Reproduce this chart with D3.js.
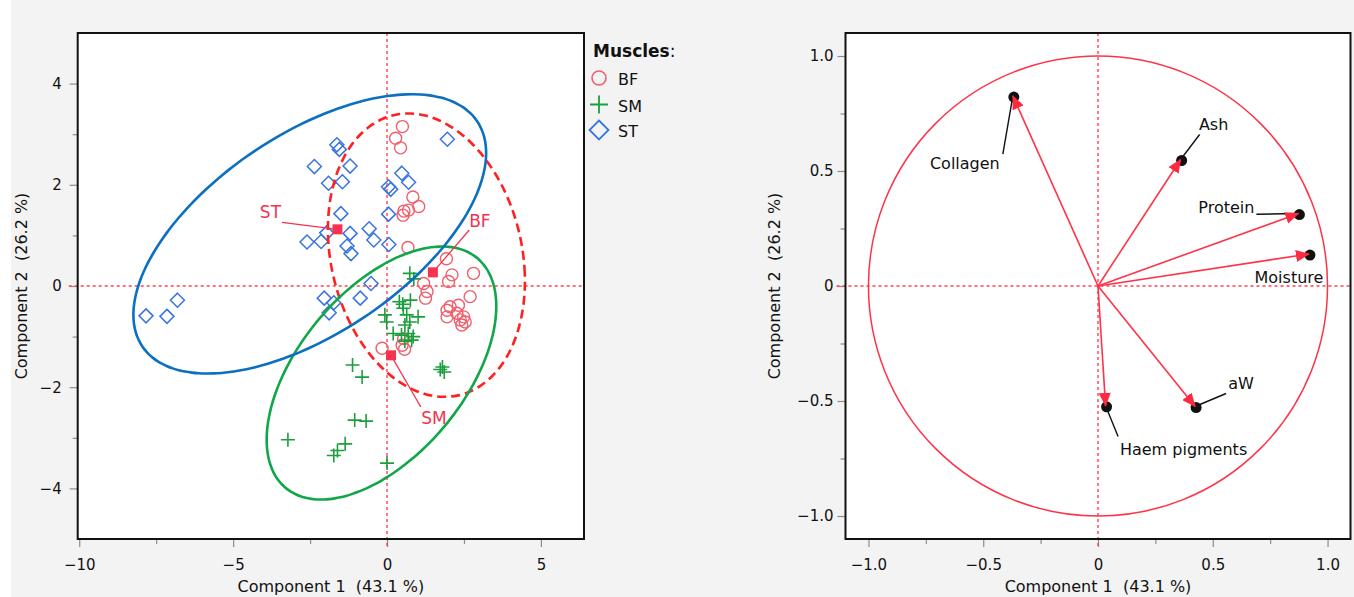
<!DOCTYPE html>
<html>
<head>
<meta charset="utf-8">
<script src="https://cdn.jsdelivr.net/npm/d3@7"></script>
<style>
  html, body { margin: 0; padding: 0; background: #f3f3f3; }
  svg text { font-family: "DejaVu Sans", sans-serif; fill: #111; }
</style>
</head>
<body>
<svg id="chart" width="1354" height="597"></svg>
<script>
// ---- score plot data (Component 1, Component 2) ----
var bfScores = [
  [0.50, 3.15], [0.28, 2.92], [0.44, 2.73], [0.84, 1.76], [1.03, 1.57], [0.55, 1.48],
  [0.70, 1.50], [0.52, 1.40], [0.68, 0.76], [1.93, 0.54], [2.11, 0.22], [2.81, 0.25],
  [1.19, 0.05], [2.00, 0.09], [1.30, -0.11], [1.25, -0.24], [2.70, -0.21], [1.95, -0.48],
  [2.05, -0.41], [2.32, -0.38], [2.27, -0.54], [2.49, -0.61], [2.54, -0.71], [2.43, -0.77],
  [1.95, -0.61], [2.38, -0.67], [-0.16, -1.23], [0.54, -1.04], [0.49, -1.17], [0.57, -1.25]
];
var smScores = [
  [0.74, 0.25], [0.87, 0.14], [0.40, -0.31], [0.51, -0.36], [0.53, -0.44], [0.76, -0.28],
  [-0.07, -0.57], [-0.01, -0.71], [0.64, -0.57], [1.01, -0.61], [0.74, -0.71], [0.58, -0.77],
  [0.20, -0.94], [0.47, -0.97], [0.69, -0.94], [0.80, -1.07], [0.58, -1.09], [0.85, -1.00],
  [-1.12, -1.56], [-0.81, -1.80], [1.73, -1.65], [1.86, -1.70], [1.80, -1.60], [-1.05, -2.65],
  [-0.68, -2.67], [-3.22, -3.04], [-1.36, -3.12], [-1.61, -3.25], [-1.73, -3.35], [0.00, -3.50]
];
var stScores = [
  [-1.63, 2.79], [-1.55, 2.70], [-2.36, 2.36], [-1.20, 2.37], [-1.90, 2.03], [-1.45, 2.06],
  [1.96, 2.90], [0.48, 2.23], [0.70, 2.05], [0.05, 1.96], [0.12, 1.91], [-1.50, 1.43],
  [0.05, 1.42], [-2.60, 0.87], [-2.14, 0.88], [-1.96, 1.05], [-1.20, 1.04], [-0.58, 1.13],
  [-0.43, 0.91], [-1.30, 0.79], [-1.17, 0.64], [0.06, 0.82], [-0.52, 0.05], [-2.04, -0.24],
  [-1.73, -0.33], [-1.88, -0.53], [-0.87, -0.24], [-6.81, -0.28], [-7.83, -0.59], [-7.15, -0.60]
];
var muscles = ['BF', 'SM', 'ST'];
var centroidX = [1.49, 0.13, -1.61];
var centroidY = [0.27, -1.37, 1.12];
// density ellipses: centre, half extents, correlation
var ellipseCx = [1.28, -0.18, -2.51];
var ellipseCy = [0.61, -1.72, 1.03];
var ellipseSx = [3.20, 3.73, 5.73];
var ellipseSy = [2.80, 2.50, 2.76];
var ellipseR = [-0.183, 0.527, 0.579];

var xTicksScore = [-10, -5, 0, 5];
var xMinorScore = [-7.5, -2.5, 2.5];
var yTicksScore = [-4, -2, 0, 2, 4];
var yMinorScore = [-3, -1, 1, 3];

// ---- loading plot data ----
var variables = ['Collagen', 'Ash', 'Protein', 'Moisture', 'aW', 'Haem pigments'];
var loadPC1 = [-0.371, 0.360, 0.873, 0.919, 0.423, 0.033];
var loadPC2 = [0.826, 0.550, 0.315, 0.139, -0.524, -0.521];
var ticksLoad = [-1.0, -0.5, 0, 0.5, 1.0];
var minorLoad = [-0.75, -0.25, 0.25, 0.75];

// label placement (pixel offsets from the marked point)
var loadLabelPos = {
  'Collagen':      { dx: -48, dy: 73, anchor: 'middle', lx: -10, ly: 58 },
  'Ash':           { dx: 33, dy: -30, anchor: 'middle', lx: 19, ly: -25 },
  'Protein':       { dx: -44, dy: -1, anchor: 'end', lx: -42, ly: 0.7 },
  'Moisture':      { dx: -20, dy: 29, anchor: 'middle', lx: null, ly: null },
  'aW':            { dx: 46, dy: -18, anchor: 'middle', lx: 31, ly: -13 },
  'Haem pigments': { dx: 78, dy: 49, anchor: 'middle', lx: 12.5, ly: 30.7 }
};
var centroidLabelPos = {
  'BF': { dx: 47, dy: -45.6, lx: 36.4, ly: -42.3 },
  'SM': { dx: 43, dy: 69, lx: 29.8, ly: 51.7 },
  'ST': { dx: -67, dy: -11, lx: -55.5, ly: -7 }
};

var RED_REF = '#ff4252';
var colors = { BF: '#ef5f6c', SM: '#1b9f3d', ST: '#3a74e0' };
var ellipseColors = { BF: '#ff2020', SM: '#10a74a', ST: '#0b6fc2' };

var svg = d3.select('#chart');
svg.append('rect').attr('width', 1354).attr('height', 597).attr('fill', '#f3f3f3');
svg.append('rect').attr('width', 11).attr('height', 597).attr('fill', '#ffffff');

var xL = d3.scaleLinear().domain([-10.05, 6.4]).range([77.7, 584]);
var yL = d3.scaleLinear().domain([-5, 5]).range([539, 33]);
var xR = d3.scaleLinear().domain([-1.1, 1.1]).range([845.5, 1350.5]);
var yR = d3.scaleLinear().domain([-1.1, 1.1]).range([539, 33]);

function styleAxis(sel, fontSize) {
  sel.select('.domain').remove();
  sel.selectAll('.tick line').attr('stroke', '#8c8c8c').attr('stroke-width', 1.2);
  sel.selectAll('.tick text').style('font-size', fontSize + 'px').attr('fill', '#111');
}

function drawPanel(x, y, xMaj, xMin, yMaj, yMin, fmt, yPad) {
  var g = svg.append('g');
  var x0 = x.range()[0], x1 = x.range()[1], y0 = y.range()[1], y1 = y.range()[0];
  g.append('rect').attr('x', x0).attr('y', y0).attr('width', x1 - x0).attr('height', y1 - y0)
    .attr('fill', '#fff');

  g.append('g').attr('transform', 'translate(0,' + y1 + ')')
    .call(d3.axisBottom(x).tickValues(xMaj).tickSize(8).tickPadding(12).tickFormat(fmt))
    .call(styleAxis, 15);
  g.append('g').attr('transform', 'translate(0,' + y1 + ')')
    .call(d3.axisBottom(x).tickValues(xMin).tickSize(5).tickFormat(''))
    .call(styleAxis, 15);
  g.append('g').attr('transform', 'translate(' + x0 + ',0)')
    .call(d3.axisLeft(y).tickValues(yMaj).tickSize(8).tickPadding(yPad).tickFormat(fmt))
    .call(styleAxis, 15);
  g.append('g').attr('transform', 'translate(' + x0 + ',0)')
    .call(d3.axisLeft(y).tickValues(yMin).tickSize(5).tickFormat(''))
    .call(styleAxis, 15);

  // reference lines through zero
  g.append('line').attr('x1', x(0)).attr('x2', x(0)).attr('y1', y0).attr('y2', y1 + 9)
    .attr('stroke', RED_REF).attr('stroke-width', 1.4).attr('stroke-dasharray', '3,3');
  g.append('line').attr('x1', x0 - 9).attr('x2', x1).attr('y1', y(0)).attr('y2', y(0))
    .attr('stroke', RED_REF).attr('stroke-width', 1.4).attr('stroke-dasharray', '3,3');
  return g;
}

function frame(x, y) {
  var x0 = x.range()[0], x1 = x.range()[1], y0 = y.range()[1], y1 = y.range()[0];
  svg.append('rect').attr('x', x0).attr('y', y0).attr('width', x1 - x0).attr('height', y1 - y0)
    .attr('fill', 'none').attr('stroke', '#111').attr('stroke-width', 2);
}

function axisTitles(x, y, titleX, titleY, yTitleX) {
  var cx = (x.range()[0] + x.range()[1]) / 2;
  var cy = (y.range()[0] + y.range()[1]) / 2;
  svg.append('text').attr('x', cx).attr('y', 592).attr('text-anchor', 'middle')
    .style('font-size', '16px').style('white-space', 'pre').text(titleX);
  svg.append('text').attr('transform', 'translate(' + yTitleX + ',' + cy + ') rotate(-90)')
    .attr('text-anchor', 'middle').style('font-size', '16px').style('white-space', 'pre').text(titleY);
}

// ================= left: score plot =================
var fmtScore = d3.format('d');
var gL = drawPanel(xL, yL, xTicksScore, xMinorScore, yTicksScore, yMinorScore, fmtScore, 8);

function symbolPath(m, s) {
  if (m === 'SM') return 'M' + (-s) + ',0H' + s + 'M0,' + (-s) + 'V' + s;
  if (m === 'ST') return 'M0,' + (-s) + 'L' + s + ',0L0,' + s + 'L' + (-s) + ',0Z';
  return null;
}

gL.selectAll('circle.bf').data(bfScores).enter().append('circle')
  .attr('cx', function (d) { return xL(d[0]); })
  .attr('cy', function (d) { return yL(d[1]); })
  .attr('r', 6).attr('fill', 'none').attr('stroke', colors.BF).attr('stroke-width', 1.4);
gL.selectAll('path.st').data(stScores).enter().append('path')
  .attr('d', symbolPath('ST', 7))
  .attr('transform', function (d) { return 'translate(' + xL(d[0]) + ',' + yL(d[1]) + ')'; })
  .attr('fill', 'none').attr('stroke', colors.ST).attr('stroke-width', 1.5);
gL.selectAll('path.sm').data(smScores).enter().append('path')
  .attr('d', symbolPath('SM', 7))
  .attr('transform', function (d) { return 'translate(' + xL(d[0]) + ',' + yL(d[1]) + ')'; })
  .attr('fill', 'none').attr('stroke', colors.SM).attr('stroke-width', 1.6);

// ellipses
var tSteps = d3.range(0, 361, 3).map(function (a) { return a * Math.PI / 180; });
muscles.forEach(function (m, i) {
  var k = Math.sqrt(1 - ellipseR[i] * ellipseR[i]);
  var pts = tSteps.map(function (t) {
    var ex = ellipseCx[i] + ellipseSx[i] * Math.cos(t);
    var ey = ellipseCy[i] + ellipseSy[i] * (ellipseR[i] * Math.cos(t) + k * Math.sin(t));
    return [xL(ex), yL(ey)];
  });
  gL.append('path').attr('d', d3.line().curve(d3.curveCardinalClosed)(pts.slice(0, -1)))
    .attr('fill', 'none').attr('stroke', ellipseColors[m]).attr('stroke-width', 2.6)
    .attr('stroke-dasharray', m === 'BF' ? '9,5' : null);
});

// centroids
muscles.forEach(function (m, i) {
  var px = xL(centroidX[i]), py = yL(centroidY[i]);
  var p = centroidLabelPos[m];
  gL.append('line').attr('x1', px).attr('y1', py).attr('x2', px + p.lx).attr('y2', py + p.ly)
    .attr('stroke', '#f5334f').attr('stroke-width', 1.3);
  gL.append('rect').attr('x', px - 5).attr('y', py - 5).attr('width', 10).attr('height', 10)
    .attr('fill', '#f5334f');
  gL.append('text').attr('x', px + p.dx).attr('y', py + p.dy).attr('text-anchor', 'middle')
    .style('font-size', '17px').style('fill', '#f5334f').text(m);
});

frame(xL, yL);
axisTitles(xL, yL, 'Component 1  (43.1 %)', 'Component 2  (26.2 %)', 27);

// legend
var leg = svg.append('g');
var legTitle = leg.append('text').attr('x', 593).attr('y', 57).style('font-size', '17px');
legTitle.append('tspan').style('font-weight', 'bold').text('Muscles');
legTitle.append('tspan').text(':');
var legY = [78, 104.5, 130];
muscles.forEach(function (m, i) {
  if (m === 'BF') {
    leg.append('circle').attr('cx', 599).attr('cy', legY[i]).attr('r', 7)
      .attr('fill', 'none').attr('stroke', colors.BF).attr('stroke-width', 1.6);
  } else {
    leg.append('path').attr('d', symbolPath(m, m === 'ST' ? 9.5 : 9))
      .attr('transform', 'translate(599,' + legY[i] + ')')
      .attr('fill', 'none').attr('stroke', colors[m]).attr('stroke-width', 1.8);
  }
  leg.append('text').attr('x', 618).attr('y', legY[i] + 7).style('font-size', '16px').text(m);
});

// ================= right: loading plot =================
var fmtLoad = function (d) { return d === 0 ? '0' : d3.format('.1f')(d).replace('-', '\u2212'); };
var gR = drawPanel(xR, yR, ticksLoad, minorLoad, ticksLoad, minorLoad, fmtLoad, 4);

gR.append('ellipse').attr('cx', xR(0)).attr('cy', yR(0))
  .attr('rx', xR(1) - xR(0)).attr('ry', yR(0) - yR(1))
  .attr('fill', 'none').attr('stroke', '#ff3347').attr('stroke-width', 1.5);

svg.append('defs').append('marker').attr('id', 'arrow')
  .attr('markerUnits', 'userSpaceOnUse').attr('markerWidth', 14).attr('markerHeight', 12)
  .attr('refX', 13).attr('refY', 6).attr('orient', 'auto')
  .append('path').attr('d', 'M0,0L14,6L0,12Z').attr('fill', '#ff2a40');

var loads = variables.map(function (v, i) { return { name: v, x: loadPC1[i], y: loadPC2[i] }; });

// leader lines
loads.forEach(function (d) {
  var p = loadLabelPos[d.name];
  if (p.lx === null) return;
  var px = xR(d.x), py = yR(d.y);
  gR.append('line').attr('x1', px).attr('y1', py).attr('x2', px + p.lx).attr('y2', py + p.ly)
    .attr('stroke', '#111').attr('stroke-width', 1.4);
});
gR.selectAll('circle.load').data(loads).enter().append('circle')
  .attr('cx', function (d) { return xR(d.x) + 1; })
  .attr('cy', function (d) { return yR(d.y) + 1; })
  .attr('r', 5.5).attr('fill', '#111');
gR.selectAll('line.vec').data(loads).enter().append('line')
  .attr('x1', xR(0)).attr('y1', yR(0))
  .attr('x2', function (d) { return xR(d.x); })
  .attr('y2', function (d) { return yR(d.y); })
  .attr('stroke', '#ff3347').attr('stroke-width', 1.6).attr('marker-end', 'url(#arrow)');
gR.selectAll('text.lab').data(loads).enter().append('text')
  .attr('x', function (d) { return xR(d.x) + loadLabelPos[d.name].dx; })
  .attr('y', function (d) { return yR(d.y) + loadLabelPos[d.name].dy; })
  .attr('text-anchor', function (d) { return loadLabelPos[d.name].anchor; })
  .style('font-size', '16px').text(function (d) { return d.name; });

frame(xR, yR);
axisTitles(xR, yR, 'Component 1  (43.1 %)', 'Component 2  (26.2 %)', 780);
</script>
</body>
</html>
